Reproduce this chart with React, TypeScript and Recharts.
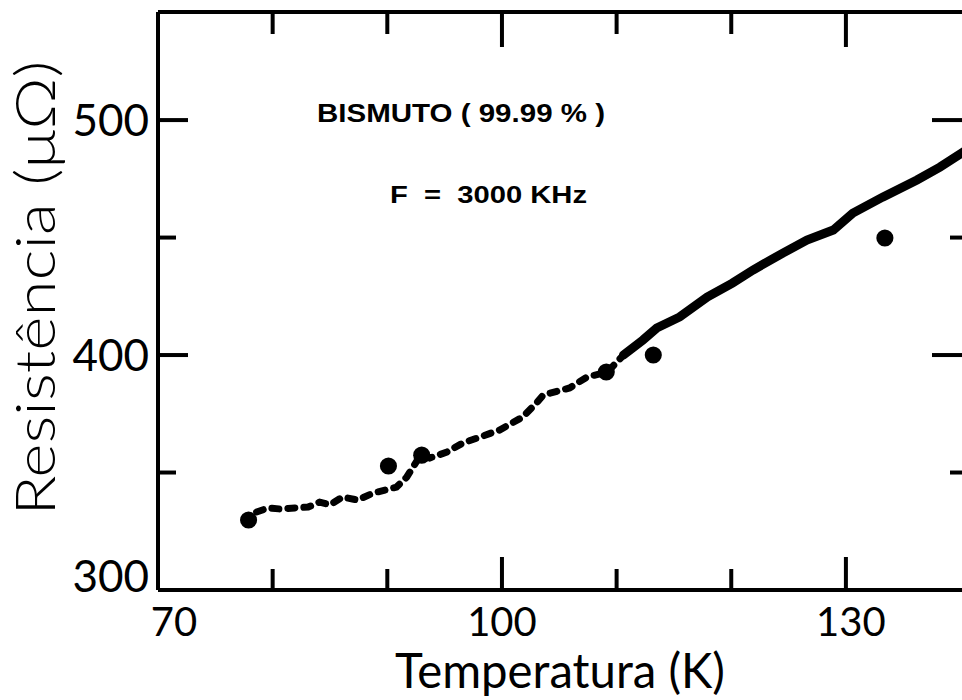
import React from 'react';
import { ComposedChart, Line, Scatter, XAxis, YAxis, ZAxis } from 'recharts';

// tick values
const xTicks = [70, 80, 90, 100, 110, 120, 130];
const xMajor = [70, 100, 130];
const xMinor = [80, 90, 110, 120];
const yTicks = [300, 350, 400, 450, 500];
const yMajor = [300, 400, 500];
const yMinor = [350, 450];

// continuous measurement (lower part drawn broken, upper part solid)
const lowTemp = [78.6, 79.6, 80.6, 83.1, 84.1, 85.0, 86.1, 87.4, 88.8, 90.8, 91.7, 92.9, 93.7, 95.2, 96.6, 98.1, 99.8, 101.8, 103.0, 103.6, 105.9, 107.4, 109.2, 110.6];
const lowRes = [333.2, 334.9, 334.5, 335.3, 337.4, 336.2, 339.6, 338.3, 341.3, 343.8, 348.1, 357.4, 356.2, 358.7, 362.6, 365.1, 368.1, 373.6, 379.5, 383.0, 386.0, 390.6, 392.8, 400.0];
const highTemp = [110.6, 112.3, 113.5, 115.5, 117.9, 120.1, 121.9, 124.5, 126.6, 128.9, 130.6, 133.2, 136.2, 138.2, 140.3];
const highRes = [400.0, 406.4, 411.5, 416.2, 424.7, 430.6, 436.2, 443.4, 448.9, 453.2, 460.4, 467.2, 474.5, 480.0, 486.6];

// isolated measurements (large dots)
const dotTemp = [77.9, 90.1, 93.0, 109.1, 113.2, 133.4];
const dotRes = [329.8, 352.8, 357.4, 392.8, 400.0, 449.8];

const lowData = lowTemp.map((t, i) => ({ t, r: lowRes[i] }));
const highData = highTemp.map((t, i) => ({ t, r: highRes[i] }));
const dotData = dotTemp.map((t, i) => ({ t, r: dotRes[i] }));

const INK = '#000';
const FONT = 'Lato, "Open Sans", sans-serif';
const BOLD = '"Liberation Sans", Arial, sans-serif';
const X_DOMAIN: [number, number] = [70, 140.3];
const Y_DOMAIN: [number, number] = [300, 546];
const TICK_LINE = { stroke: INK, strokeWidth: 4 };
const FRAME = { stroke: INK, strokeWidth: 4 };

const NoLabel = () => <g />;

const BottomTick = (props: any) => {
  const x = Number(props.x);
  const y = Number(props.y);
  const v = props.payload.value;
  const major = xMajor.includes(v);
  const shift = v === 70 ? 16 : v === 130 ? 5 : 0;
  return (
    <g>
      <line x1={x} x2={x} y1={y} y2={y - (major ? 33 : 21)} stroke={INK} strokeWidth={4} />
      {major ? (
        <text x={x + shift} y={y + 46} textAnchor="middle" fontFamily={FONT} fontSize={40} fill={INK}>
          {v}
        </text>
      ) : null}
    </g>
  );
};

// right-edge tick; it also carries the value label shown at the left edge
const RightTick = (props: any) => {
  const x = Number(props.x);
  const y = Number(props.y);
  const v = props.payload.value;
  const major = yMajor.includes(v);
  return (
    <g>
      <line x1={x} x2={x - (major ? 32 : 14)} y1={y} y2={y} stroke={INK} strokeWidth={4} />
      {major ? (
        <text x={158 - 9} y={v === 300 ? y + 2 : y + 16} textAnchor="end" fontFamily={FONT} fontSize={44} fill={INK}>
          {v}
        </text>
      ) : null}
    </g>
  );
};

export default function App() {
  return (
    <div style={{ position: 'absolute', left: 0, top: 0, width: 962, height: 700, overflow: 'hidden', background: '#fff' }}>
      <ComposedChart width={966} height={700} margin={{ top: 12, right: 1, bottom: 109, left: 158 }}>
        <XAxis
          xAxisId="b"
          type="number"
          dataKey="t"
          domain={X_DOMAIN}
          ticks={xTicks}
          interval={0}
          height={1}
          tickSize={0}
          tickMargin={0}
          tickLine={false}
          axisLine={FRAME}
          tick={<BottomTick />}
          allowDataOverflow
        />
        {/* top frame: inward ticks, long at labelled values, short in between */}
        <XAxis
          xAxisId="tMaj"
          orientation="top"
          mirror
          type="number"
          dataKey="t"
          domain={X_DOMAIN}
          ticks={xMajor}
          interval={0}
          height={1}
          tickSize={35}
          tickLine={TICK_LINE}
          axisLine={FRAME}
          tick={NoLabel}
          allowDataOverflow
        />
        <XAxis
          xAxisId="tMin"
          orientation="top"
          mirror
          type="number"
          dataKey="t"
          domain={X_DOMAIN}
          ticks={xMinor}
          interval={0}
          height={1}
          tickSize={21}
          tickLine={TICK_LINE}
          axisLine={false}
          tick={NoLabel}
          allowDataOverflow
        />
        {/* left frame: inward ticks */}
        <YAxis
          yAxisId="lMaj"
          mirror
          type="number"
          dataKey="r"
          domain={Y_DOMAIN}
          ticks={yMajor}
          interval={0}
          width={1}
          tickSize={30}
          tickLine={TICK_LINE}
          axisLine={FRAME}
          tick={NoLabel}
          allowDataOverflow
        />
        <YAxis
          yAxisId="lMin"
          mirror
          type="number"
          dataKey="r"
          domain={Y_DOMAIN}
          ticks={yMinor}
          interval={0}
          width={1}
          tickSize={17}
          tickLine={TICK_LINE}
          axisLine={false}
          tick={NoLabel}
          allowDataOverflow
        />
        <YAxis
          yAxisId="right"
          orientation="right"
          type="number"
          dataKey="r"
          domain={Y_DOMAIN}
          ticks={yTicks}
          interval={0}
          width={1}
          tickSize={0}
          tickMargin={0}
          tickLine={false}
          axisLine={FRAME}
          tick={<RightTick />}
          allowDataOverflow
        />
        <ZAxis range={[230, 230]} />
        <Line
          xAxisId="b"
          yAxisId="lMaj"
          data={lowData}
          dataKey="r"
          type="linear"
          stroke={INK}
          strokeWidth={7}
          strokeDasharray="7 9"
          strokeLinecap="round"
          dot={false}
          isAnimationActive={false}
        />
        <Line
          xAxisId="tMaj"
          yAxisId="lMin"
          data={highData}
          dataKey="r"
          type="linear"
          stroke={INK}
          strokeWidth={9}
          strokeLinecap="round"
          dot={false}
          isAnimationActive={false}
        />
        <Scatter
          xAxisId="tMin"
          yAxisId="right"
          data={dotData}
          dataKey="r"
          fill={INK}
          shape="circle"
          isAnimationActive={false}
        />
      </ComposedChart>
      <svg width={962} height={700} style={{ position: 'absolute', left: 0, top: 0, pointerEvents: 'none' }}>
        <text x={317} y={122} textLength={288} lengthAdjust="spacingAndGlyphs" fontFamily={BOLD} fontWeight="bold" fontSize={25} fill={INK}>
          BISMUTO ( 99.99 % )
        </text>
        <text x={390} y={203} textLength={197} lengthAdjust="spacingAndGlyphs" fontFamily={BOLD} fontWeight="bold" fontSize={24} fill={INK} xmlSpace="preserve">
          F  =  3000 KHz
        </text>
        <text x={560} y={688} textAnchor="middle" textLength={330} lengthAdjust="spacingAndGlyphs" fontFamily={FONT} fontSize={48} fill={INK}>
          Temperatura (K)
        </text>
        <text
          x={55}
          y={288}
          transform="rotate(-90, 55, 288)"
          textAnchor="middle"
          textLength={455}
          lengthAdjust="spacingAndGlyphs"
          fontFamily={FONT}
          fontWeight={300}
          fontSize={56}
          fill={INK}
        >
          Resistência (μΩ)
        </text>
      </svg>
    </div>
  );
}
